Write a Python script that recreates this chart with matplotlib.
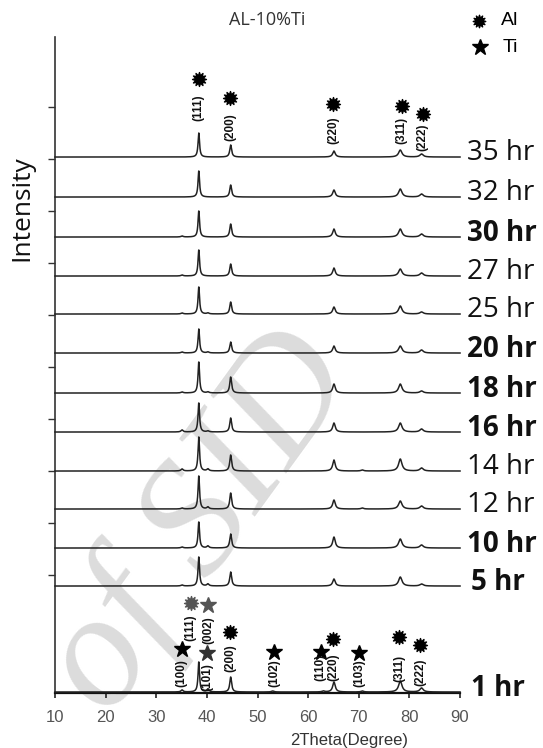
import numpy as np
import matplotlib
matplotlib.use("Agg")
import matplotlib.pyplot as plt
from matplotlib.path import Path

# one trace per milling time, from top to bottom
hours = ['35 hr', '32 hr', '30 hr', '27 hr', '25 hr', '20 hr', '18 hr',
         '16 hr', '14 hr', '12 hr', '10 hr', '5 hr', '1 hr']
offsets = [536, 496, 456, 417, 379, 340, 300, 261, 222, 184, 145, 107, 1]
bold = [False, False, True, False, False, True, True,
        True, False, False, True, True, True]

# Al peaks: (111) (200) (220) (311) (222)
al_pos = [38.4, 44.7, 65.1, 78.2, 82.4]
al_hw = [0.18, 0.22, 0.30, 0.40, 0.40]
al_h = [
    [24, 12, 6, 7, 3],
    [26, 12, 7, 8, 3],
    [26, 13, 8, 8, 3],
    [26, 12, 8, 7, 3],
    [27, 12, 7, 8, 2],
    [24, 11, 7, 7, 3],
    [31, 16, 9, 9, 2],
    [29, 14, 9, 9, 3],
    [34, 16, 11, 12, 3],
    [33, 16, 9, 8, 3],
    [26, 14, 11, 9, 3],
    [29, 14, 7, 9, 2],
    [30, 15, 10, 11, 4],
]
# Ti peaks: (100) (101) (102) (110) (103)
ti_pos = [35.1, 40.2, 53.0, 63.0, 70.7]
ti_hw = [0.25, 0.25, 0.30, 0.30, 0.30]
ti_h = [
    [0, 0, 0, 0, 0],
    [0, 0, 0, 0, 0],
    [1, 0, 0, 0, 0],
    [1, 0, 0, 0, 0],
    [1, 1, 0, 0, 0],
    [1, 1, 0, 0, 0],
    [1, 1, 0, 0, 0],
    [2, 1, 0, 0, 0],
    [2, 2, 0, 0, 1],
    [1, 2, 0, 0, 1],
    [1, 2, 0, 0, 0],
    [1, 2, 0, 0, 0],
    [2, 3, 1, 1, 1],
]

# peak markers on the 35 hr trace: (angle, marker height, label height, label)
top_marks = [(38.4, 614, 585, '(111)'), (44.6, 595, 566, '(200)'),
             (65.0, 589, 563, '(220)'), (78.5, 587, 563, '(311)'),
             (82.6, 579, 556, '(222)')]
# peak markers on the 1 hr trace: (phase, angle, marker height, label height, label, colour)
bottom_marks = [
    ('Ti', 35.0, 44, 20, '(100)', 'k'),
    ('Al', 36.8, 90, 65, '(111)', '#555555'),
    ('Ti', 40.3, 88, 63, '(002)', '#555555'),
    ('Ti', 40.1, 40, 16, '(101)', '#333333'),
    ('Al', 44.6, 61, 35, '(200)', 'k'),
    ('Ti', 53.3, 41, 20, '(102)', 'k'),
    ('Ti', 62.5, 41, 26, '(110)', 'k'),
    ('Al', 65.0, 54, 26, '(220)', 'k'),
    ('Ti', 70.1, 40, 20, '(103)', 'k'),
    ('Al', 78.0, 56, 25, '(311)', 'k'),
    ('Al', 82.1, 48, 21, '(222)', 'k'),
]


def burst(n=12, inner=0.55):
    ang = np.linspace(0, 2 * np.pi, 2 * n, endpoint=False) + np.pi / 2
    r = np.where(np.arange(2 * n) % 2 == 0, 1.0, inner)
    verts = np.column_stack([r * np.cos(ang), r * np.sin(ang)])
    verts = np.vstack([verts, verts[:1]])
    return Path(verts, closed=True)


al_marker = burst()
marker_style = {'Al': dict(marker=al_marker, ms=10), 'Ti': dict(marker='*', ms=12)}

fig = plt.figure(figsize=(5.43, 7.48), dpi=100)
ax = fig.add_axes([0.1013, 0.0735, 0.7459, 0.877])

x = np.linspace(10, 90, 4001)
for i, lab in enumerate(hours):
    y = np.full_like(x, offsets[i], dtype=float)
    for p, w, h in zip(al_pos, al_hw, al_h[i]):
        y += h / (1 + ((x - p) / w) ** 2)
    for p, w, h in zip(ti_pos, ti_hw, ti_h[i]):
        y += h / (1 + ((x - p) / w) ** 2)
    ax.plot(x, y, color='#222222', lw=1.1, zorder=3, clip_on=False)
    dx = 1.028 if lab in ('5 hr', '1 hr') else 1.016
    ax.text(dx, offsets[i] + 4, lab, transform=ax.get_yaxis_transform(),
            fontsize=20, family='Open Sans',
            fontweight='bold' if bold[i] else 'normal',
            ha='left', va='center', color='#111111')

for ang, mh, th, lab in top_marks:
    ax.plot(ang, mh, color='k', ls='none', clip_on=False, **marker_style['Al'])
    ax.text(ang, th, lab, rotation=90, fontsize=8.5, ha='center', va='center',
            family='Liberation Sans', color='#111111', fontweight='bold')

for ph, ang, mh, th, lab, col in bottom_marks:
    ax.plot(ang, mh, color=col, ls='none', clip_on=False, **marker_style[ph])
    ax.text(ang, th, lab, rotation=90, fontsize=8.5, ha='center', va='center',
            family='Liberation Sans', color='#111111', fontweight='bold')

ax.set_xlim(10, 90)
ax.set_ylim(0, 656)
ax.set_xticks(range(10, 91, 10))
ax.set_yticks(np.arange(118, 600, 52))
ax.set_yticklabels([])
ax.tick_params(axis='x', direction='out', length=3.5, width=1.2, pad=9,
               labelsize=12, labelcolor='#555555', color='#222222')
ax.tick_params(axis='y', direction='out', length=5, width=1.0, color='#333333')
for lbl in ax.get_xticklabels():
    lbl.set_family('Liberation Sans')
for s in ['top', 'right']:
    ax.spines[s].set_visible(False)
ax.spines['left'].set_color('#333333')
ax.spines['left'].set_linewidth(1.2)
ax.spines['bottom'].set_color('#111111')
ax.spines['bottom'].set_linewidth(1.6)

# watermark of the source scan, kept inside the figure
ax.text(0.37, 0.30, 'of SID', transform=fig.transFigure, rotation=54,
        fontsize=118, family='Liberation Serif', style='italic',
        color='#dcdcdc', ha='center', va='center', zorder=0, clip_on=False)

fig.text(0.492, 0.973, 'AL-10%Ti', fontsize=13, family='Open Sans',
         color='#333333', ha='center', va='center')
fig.text(0.040, 0.722, 'Intensity', rotation=90, fontsize=19, family='Open Sans',
         color='#111111', ha='center', va='center')
fig.text(0.643, 0.010, '2Theta(Degree)', fontsize=12, family='Liberation Sans',
         color='#333333', ha='center', va='center')

# legend in the top right corner
fig.lines.append(plt.Line2D([0.882], [0.972], transform=fig.transFigure, color='k',
                            ls='none', marker=al_marker, ms=9))
fig.lines.append(plt.Line2D([0.884], [0.937], transform=fig.transFigure, color='k',
                            ls='none', marker='*', ms=12))
fig.text(0.923, 0.972, 'Al', fontsize=14, family='Liberation Sans', va='center')
fig.text(0.926, 0.937, 'Ti', fontsize=14, family='Liberation Sans', va='center')

fig.savefig('out.png', dpi=100)
